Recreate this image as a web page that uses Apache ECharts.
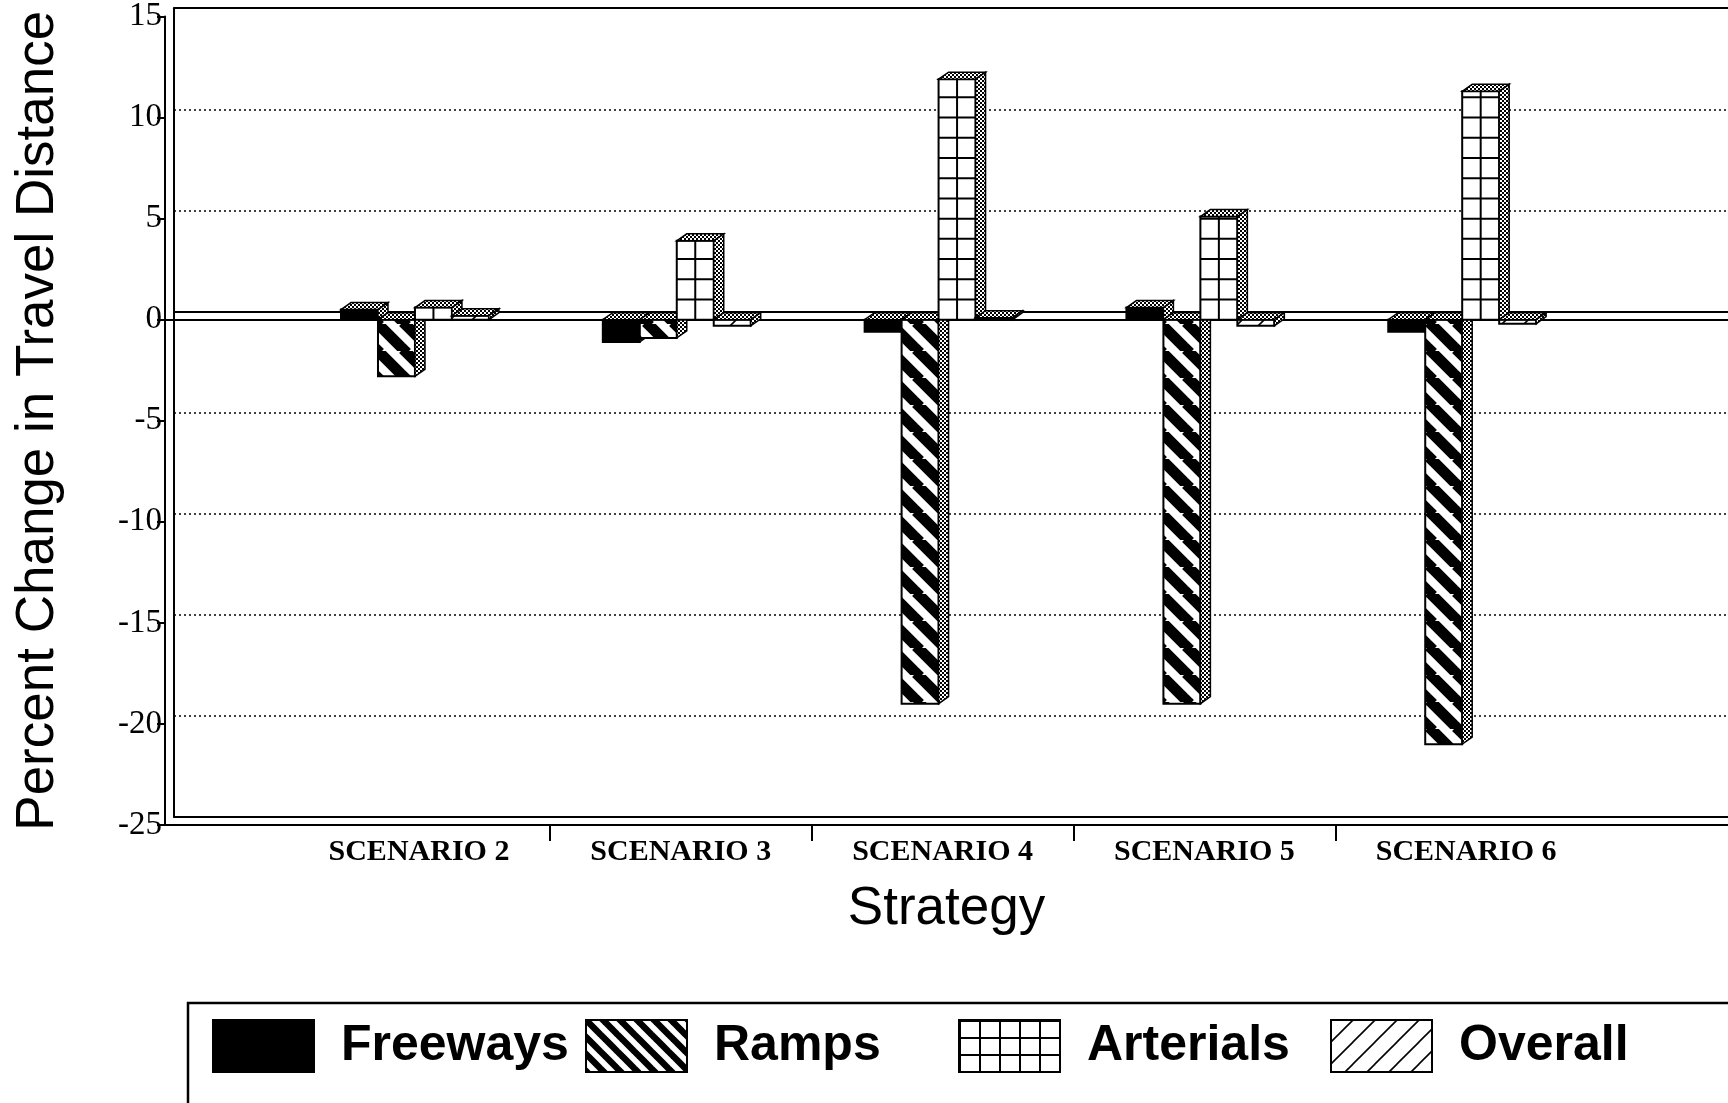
<!DOCTYPE html>
<html>
<head>
<meta charset="utf-8">
<script src="https://cdn.jsdelivr.net/npm/echarts@6/dist/echarts.min.js"></script>
<style>
  html, body { margin: 0; padding: 0; background: #fff; }
  #chart { width: 1728px; height: 1103px; }
</style>
</head>
<body>
<div id="chart"></div>
<script>
// Percent change in travel distance by road class, per scenario
const categories = ['SCENARIO 2', 'SCENARIO 3', 'SCENARIO 4', 'SCENARIO 5', 'SCENARIO 6'];
const freeways  = [0.5, -1.1, -0.6, 0.6, -0.6];
const ramps     = [-2.8, -0.9, -19.0, -19.0, -21.0];
const arterials = [0.6, 3.9, 11.9, 5.1, 11.3];
const overall   = [0.2, -0.3, 0.1, -0.3, -0.2];
const seriesNames = ['Freeways', 'Ramps', 'Arterials', 'Overall'];

// positions of the scenarios along the strategy axis, and the tick marks between them
const categoryPositions = [1, 2, 3, 4, 5];
const categoryBoundaries = [1.5, 2.5, 3.5, 4.5];
const yMin = -25, yMax = 15, yStep = 5;

// ---------- fill patterns ----------
function tile(w, h, draw) {
  const c = document.createElement('canvas');
  c.width = w; c.height = h;
  const g = c.getContext('2d');
  g.fillStyle = '#fff';
  g.fillRect(0, 0, w, h);
  draw(g, w, h);
  return { image: c, repeat: 'repeat' };
}
function diagonal(p, lw, back) {
  return tile(p, p, function (g) {
    g.strokeStyle = '#000';
    g.lineWidth = lw;
    [-p, 0, p].forEach(function (o) {
      g.beginPath();
      if (back) { g.moveTo(o - 2, -2); g.lineTo(o + p + 2, p + 2); }
      else { g.moveTo(o - 2, p + 2); g.lineTo(o + p + 2, -2); }
      g.stroke();
    });
  });
}
const stipple = tile(4, 4, function (g) {
  g.fillStyle = '#000';
  g.fillRect(0, 0, 4, 4);
  g.fillStyle = '#fff';
  g.fillRect(0, 0, 2, 2);
  g.fillRect(2, 2, 2, 2);
});
const solidBlack = '#000';
const rampBarFill = diagonal(27, 11, true);
const rampKeyFill = diagonal(17, 6.5, true);
const overallFill = diagonal(22, 1.6, false);
const arterialKeyFill = tile(20, 17, function (g) {
  g.fillStyle = '#000';
  g.fillRect(0, 0, 2, 17);
  g.fillRect(0, 0, 20, 2);
});

const barFaces = [solidBlack, rampBarFill, '#fff', overallFill];
const keyFaces = [solidBlack, rampKeyFill, arterialKeyFill, overallFill];
const seriesValues = [freeways, ramps, arterials, overall];

// ---------- 3-D bar drawing ----------
const BAR_W = 37 / 262;      // bar width as a share of one category
const GROUP_OFF = 78 / 262;  // left edge of a group relative to its category centre
const DX = 10, DY = -7;      // depth offset of top and side faces

function renderBar(slot) {
  return function (params, api) {
    const c = api.value(0), v = api.value(1);
    const unit = api.size([1, 0])[0];
    const p0 = api.coord([c, 0]);
    const p1 = api.coord([c, v]);
    const w = unit * BAR_W;
    const x0 = p0[0] - unit * GROUP_OFF + slot * w;
    const x1 = x0 + w;
    const yTop = Math.min(p0[1], p1[1]);
    const yBot = Math.max(p0[1], p1[1]);
    const children = [];
    children.push({
      type: 'rect',
      shape: { x: x0, y: yTop, width: w, height: Math.max(yBot - yTop, 1) },
      style: { fill: barFaces[slot], stroke: '#000', lineWidth: 2 }
    });
    if (slot === 2) {
      // cell lines on the arterial bars, one row per percent
      children.push({
        type: 'line',
        shape: { x1: x0 + w / 2, y1: yTop, x2: x0 + w / 2, y2: yBot },
        style: { stroke: '#000', lineWidth: 2 }
      });
      const sign = v < 0 ? -1 : 1;
      for (let k = 1; k < Math.abs(v); k++) {
        const y = api.coord([c, sign * k])[1];
        children.push({
          type: 'line',
          shape: { x1: x0, y1: y, x2: x1, y2: y },
          style: { stroke: '#000', lineWidth: 2 }
        });
      }
    }
    children.push({
      type: 'polygon',
      shape: { points: [[x0, yTop], [x0 + DX, yTop + DY], [x1 + DX, yTop + DY], [x1, yTop]] },
      style: { fill: stipple, stroke: '#000', lineWidth: 1.5 }
    });
    children.push({
      type: 'polygon',
      shape: { points: [[x1, yTop], [x1 + DX, yTop + DY], [x1 + DX, yBot + DY], [x1, yBot]] },
      style: { fill: stipple, stroke: '#000', lineWidth: 1.5 }
    });
    return { type: 'group', children: children };
  };
}

// ---------- axes ----------
const black = { color: '#000', width: 2 };
const hidden = { show: false };
function plainX(gridIndex, extra) {
  return Object.assign({
    type: 'value', gridIndex: gridIndex, min: 0.03, max: 6,
    axisTick: hidden, axisLabel: hidden, splitLine: hidden
  }, extra);
}

const option = {
  animation: false,
  backgroundColor: '#fff',
  grid: [
    { left: 165, top: 16.2, width: 1564, height: 808.8 },  // front plane
    { left: 174, top: 8.2, width: 1564, height: 808.8 }    // back wall
  ],
  xAxis: [
    plainX(0, {
      position: 'bottom',
      axisLine: { onZero: false, lineStyle: black },
      axisTick: { show: true, customValues: categoryBoundaries, length: 16, lineStyle: black },
      axisLabel: {
        show: true,
        customValues: categoryPositions,
        formatter: function (v) { return categories[Math.round(v) - 1] || ''; },
        fontFamily: "'Liberation Serif', 'Times New Roman', serif",
        fontWeight: 'bold', fontSize: 30, color: '#000', margin: 12
      },
      name: 'Strategy',
      nameLocation: 'middle',
      nameGap: 58,
      nameTextStyle: { fontFamily: "'Liberation Sans', Arial, sans-serif", fontSize: 53, color: '#000' }
    }),
    plainX(0, { axisLine: { onZero: true, lineStyle: black } }),
    plainX(1, { axisLine: { onZero: true, lineStyle: black } }),
    plainX(1, { position: 'bottom', axisLine: { onZero: false, lineStyle: black } }),
    plainX(1, { position: 'top', axisLine: { onZero: false, lineStyle: black } })
  ],
  yAxis: [
    {
      type: 'value', gridIndex: 0, min: yMin, max: yMax, interval: yStep,
      axisLine: { show: true, onZero: false, lineStyle: black },
      axisTick: { show: true, length: 8, lineStyle: black },
      axisLabel: {
        fontFamily: "'Liberation Serif', 'Times New Roman', serif",
        fontSize: 33, color: '#000', margin: 3
      },
      splitLine: hidden,
      name: 'Percent Change in Travel Distance',
      nameLocation: 'middle',
      nameRotate: 90,
      nameGap: 100,
      nameTextStyle: { fontFamily: "'Liberation Sans', Arial, sans-serif", fontSize: 53, color: '#000' }
    },
    {
      type: 'value', gridIndex: 1, min: yMin, max: yMax, interval: yStep,
      axisLine: { show: true, onZero: false, lineStyle: black },
      axisTick: hidden, axisLabel: hidden,
      splitLine: { show: true, lineStyle: { color: '#000', width: 1.5, type: [2, 3] } }
    }
  ],
  legend: seriesNames.map(function (name, i) {
    return {
      data: [{ name: name, itemStyle: { color: keyFaces[i], borderColor: '#000', borderWidth: 2 } }],
      left: [212, 585, 958, 1330][i],
      top: 1019,
      padding: 0,
      icon: 'rect',
      itemWidth: 101,
      itemHeight: 52,
      selectedMode: false,
      textStyle: {
        fontFamily: "'Liberation Sans', Arial, sans-serif",
        fontWeight: 'bold', fontSize: 50, color: '#000',
        lineHeight: 52, padding: [0, 0, 0, 22]
      }
    };
  }),
  graphic: [{
    type: 'rect',
    shape: { x: 188, y: 1003, width: 1600, height: 160 },
    style: { fill: 'none', stroke: '#000', lineWidth: 2.5 },
    silent: true
  }],
  series: seriesNames.map(function (name, i) {
    return {
      name: name,
      type: 'custom',
      xAxisIndex: 0,
      yAxisIndex: 0,
      itemStyle: { color: keyFaces[i] },
      renderItem: renderBar(i),
      data: seriesValues[i].map(function (v, j) { return [categoryPositions[j], v]; })
    };
  })
};

const chart = echarts.init(document.getElementById('chart'), null, { renderer: 'canvas' });
chart.setOption(option);
</script>
</body>
</html>
